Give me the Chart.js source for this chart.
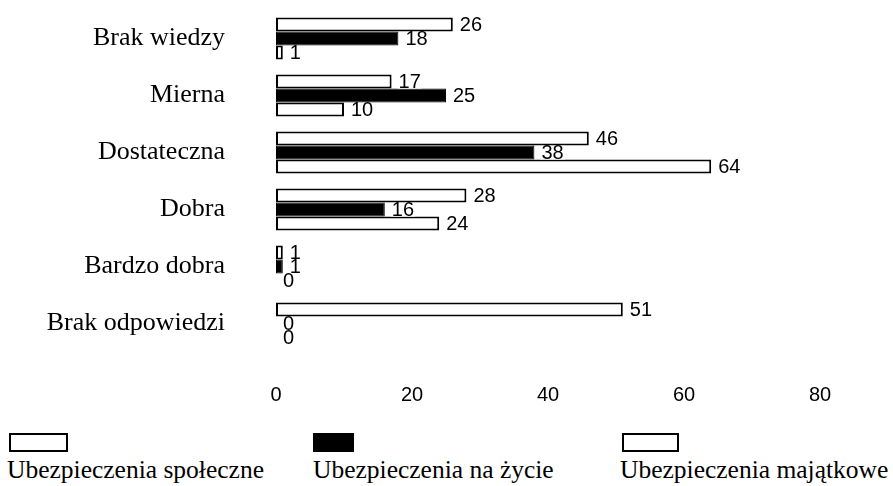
<!DOCTYPE html>
<html>
<head>
<meta charset="utf-8">
<script src="https://cdn.jsdelivr.net/npm/chart.js@4.4.0/dist/chart.umd.min.js"></script>
<style>
  body { margin: 0; background: #fff; }
  #wrap { position: relative; width: 893px; height: 486px; overflow: hidden; }
  #chart { position: absolute; left: 0; top: 0; }
  .box { position: absolute; top: 433px; height: 19px; box-sizing: border-box; border: 2px solid #000; background: #fff; }
  .txt { position: absolute; top: 457px; font: 25.5px "Liberation Serif", "Times New Roman", serif; line-height: 26px; color: #000; white-space: nowrap; }
</style>
</head>
<body>
<div id="wrap">
  <canvas id="chart" width="893" height="420"></canvas>
  <div class="box" style="left:9px;width:59px;"></div>
  <div class="box" style="left:313px;width:41px;background:#000;"></div>
  <div class="box" style="left:622px;width:57px;"></div>
  <div class="txt" style="left:7px;">Ubezpieczenia społeczne</div>
  <div class="txt" style="left:313px;">Ubezpieczenia na życie</div>
  <div class="txt" style="left:620px;">Ubezpieczenia majątkowe</div>
</div>
<script>
const categories = ['Brak wiedzy', 'Mierna', 'Dostateczna', 'Dobra', 'Bardzo dobra', 'Brak odpowiedzi'];
const spoleczne = [26, 17, 46, 28, 1, 51];
const naZycie = [18, 25, 38, 16, 1, 0];
const majatkowe = [1, 10, 64, 24, 0, 0];
const xMin = 0;
const xMax = 80;
const xStep = 20;

// wartości przy końcach słupków
const valueLabels = {
    id: 'valueLabels',
    afterDatasetsDraw(chart) {
        const ctx = chart.ctx;
        ctx.save();
        ctx.font = '20px "Liberation Sans", Arial, sans-serif';
        ctx.textBaseline = 'middle';
        ctx.textAlign = 'left';
        chart.data.datasets.forEach((ds, i) => {
            chart.getDatasetMeta(i).data.forEach((bar, j) => {
                const txt = String(ds.data[j]);
                const x = bar.x + 7;
                const w = ctx.measureText(txt).width;
                ctx.fillStyle = '#fff';
                ctx.fillRect(x - 1, bar.y - 6, w + 2, 13);
                ctx.fillStyle = '#000';
                ctx.fillText(txt, x, bar.y + 1);
            });
        });
        ctx.restore();
    }
};

const ctx = document.getElementById('chart').getContext('2d');
new Chart(ctx, {
    type: 'bar',
    data: {
        labels: categories,
        datasets: [
            { label: 'Ubezpieczenia społeczne', data: spoleczne, backgroundColor: '#fff', borderColor: '#000', borderWidth: 2, borderSkipped: false },
            { label: 'Ubezpieczenia na życie', data: naZycie, backgroundColor: '#000', borderColor: '#000', borderWidth: 1, borderSkipped: false },
            { label: 'Ubezpieczenia majątkowe', data: majatkowe, backgroundColor: '#fff', borderColor: '#000', borderWidth: 2, borderSkipped: false }
        ]
    },
    options: {
        indexAxis: 'y',
        responsive: false,
        animation: false,
        events: [],
        layout: { padding: { top: 10, right: 73, bottom: 0, left: 0 } },
        datasets: { bar: { barPercentage: 1, categoryPercentage: 0.737 } },
        plugins: { legend: { display: false }, tooltip: { enabled: false } },
        scales: {
            x: {
                min: xMin, max: xMax,
                grid: { display: false, drawTicks: false },
                border: { display: false },
                ticks: { stepSize: xStep, color: '#000', padding: 31, font: { family: '"Liberation Sans", Arial, sans-serif', size: 20 } },
                afterFit(scale) { scale.height = 68; }
            },
            y: {
                grid: { display: false, drawTicks: false },
                border: { display: false },
                ticks: { color: '#000', padding: 51, font: { family: '"Liberation Serif", "Times New Roman", serif', size: 26 } },
                afterFit(scale) {
                    scale.width = 276;
                    scale.paddingTop = 0;
                    scale.paddingBottom = 0;
                }
            }
        }
    },
    plugins: [valueLabels]
});
</script>
</body>
</html>
